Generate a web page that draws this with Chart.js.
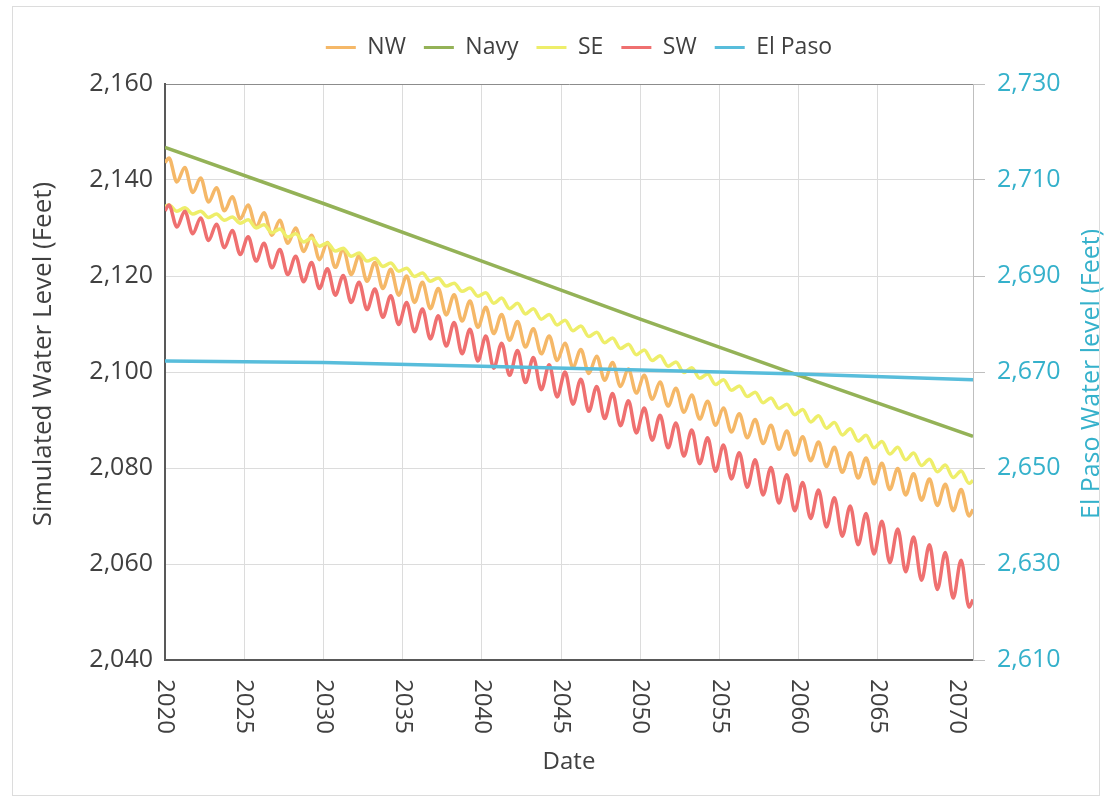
<!DOCTYPE html>
<html>
<head>
<meta charset="utf-8">
<title>Simulated Water Level</title>
<script src="https://cdn.jsdelivr.net/npm/chart.js@4.4.1/dist/chart.umd.min.js"></script>
<style>
  html, body { margin: 0; padding: 0; background: #fff; }
  #wrap { position: relative; width: 1106px; height: 801px; }
  #wrap canvas { position: absolute; left: 0; top: 0; }
  #frame { position: absolute; left: 12px; top: 6px; width: 1086px; height: 788px; border: 1px solid #dcdcdc; pointer-events: none; }
</style>
</head>
<body>
<div id="wrap">
  <canvas id="chart" width="1106" height="801"></canvas>
  <div id="frame"></div>
</div>
<script>
// --- data ---
const YEARS = [];
for (let y = 2020; y <= 2070; y++) YEARS.push(y);
const X_LABELS = [2020, 2025, 2030, 2035, 2040, 2045, 2050, 2055, 2060, 2065, 2070];

// yearly high (about Y+0.25) and low (about Y+0.75), plus values at 2020.0 / 2071.0
const NW_EDGE = [2143.6, 2071.4];
const NW_PEAK = [
  2144.6, 2142.6, 2140.4, 2138.4, 2136.5, 2134.8, 2133.2, 2131.6, 2130.0, 2128.5,
  2127.0, 2125.6, 2124.2, 2122.8, 2121.4, 2120.0, 2118.7, 2117.4, 2116.1, 2114.8,
  2113.5, 2112.0, 2110.5, 2109.0, 2107.5, 2106.0, 2104.7, 2103.3, 2102.0, 2100.6,
  2099.3, 2097.9, 2096.6, 2095.2, 2093.9, 2092.5, 2091.3, 2090.1, 2088.9, 2087.7,
  2086.5, 2085.4, 2084.3, 2083.2, 2082.1, 2081.0, 2079.9, 2078.8, 2077.7, 2076.6,
  2075.5];
const NW_TROUGH = [
  2139.6, 2137.4, 2135.4, 2133.6, 2131.9, 2130.2, 2128.5, 2126.8, 2125.1, 2123.4,
  2121.8, 2120.3, 2118.9, 2117.4, 2116.0, 2114.5, 2113.2, 2111.9, 2110.6, 2109.3,
  2108.0, 2106.6, 2105.2, 2103.8, 2102.4, 2101.0, 2099.7, 2098.3, 2097.0, 2095.6,
  2094.3, 2092.9, 2091.6, 2090.2, 2088.9, 2087.5, 2086.3, 2085.1, 2083.9, 2082.7,
  2081.5, 2080.3, 2079.1, 2077.9, 2076.7, 2075.5, 2074.4, 2073.3, 2072.2, 2071.1,
  2070.0];

const SW_EDGE = [2133.6, 2052.6];
const SW_PEAK = [
  2134.8, 2133.5, 2132.1, 2130.8, 2129.5, 2128.2, 2126.8, 2125.5, 2124.1, 2122.8,
  2121.5, 2120.1, 2118.7, 2117.3, 2115.9, 2114.5, 2113.1, 2111.7, 2110.3, 2108.9,
  2107.5, 2106.0, 2104.5, 2103.0, 2101.5, 2100.0, 2098.5, 2097.0, 2095.5, 2094.0,
  2092.5, 2091.0, 2089.4, 2087.9, 2086.3, 2084.8, 2083.2, 2081.7, 2080.1, 2078.6,
  2077.0, 2075.4, 2073.8, 2072.1, 2070.5, 2068.9, 2067.3, 2065.6, 2064.0, 2062.4,
  2060.8];
const SW_TROUGH = [
  2130.2, 2128.8, 2127.4, 2125.9, 2124.5, 2123.1, 2121.7, 2120.3, 2118.8, 2117.4,
  2116.0, 2114.5, 2113.0, 2111.4, 2109.9, 2108.4, 2106.9, 2105.4, 2103.8, 2102.3,
  2100.8, 2099.3, 2097.8, 2096.3, 2094.8, 2093.3, 2091.8, 2090.3, 2088.8, 2087.3,
  2085.8, 2084.2, 2082.5, 2080.9, 2079.3, 2077.7, 2076.0, 2074.4, 2072.7, 2071.1,
  2069.5, 2067.7, 2065.8, 2064.0, 2062.1, 2060.3, 2058.4, 2056.6, 2054.7, 2052.9,
  2051.0];

const SE_EDGE = [2134.5, 2077.4];
const SE_PEAK = [
  2134.8, 2134.2, 2133.5, 2132.9, 2132.3, 2131.7, 2130.7, 2129.8, 2128.8, 2127.9,
  2126.9, 2125.8, 2124.8, 2123.7, 2122.7, 2121.6, 2120.6, 2119.6, 2118.5, 2117.5,
  2116.5, 2115.4, 2114.3, 2113.2, 2112.0, 2110.8, 2109.6, 2108.3, 2107.1, 2105.8,
  2104.6, 2103.4, 2102.1, 2100.9, 2099.6, 2098.4, 2097.1, 2095.8, 2094.6, 2093.3,
  2092.2, 2090.9, 2089.5, 2088.2, 2086.8, 2085.5, 2084.3, 2083.1, 2081.8, 2080.6,
  2079.4];
const SE_TROUGH = [
  2133.5, 2132.9, 2132.2, 2131.6, 2131.0, 2130.0, 2129.0, 2128.1, 2127.1, 2126.2,
  2125.2, 2124.1, 2123.1, 2122.0, 2121.0, 2119.9, 2118.9, 2117.9, 2116.8, 2115.8,
  2114.3, 2113.2, 2112.1, 2111.0, 2109.8, 2108.6, 2107.4, 2106.1, 2104.9, 2103.6,
  2102.4, 2101.2, 2099.9, 2098.7, 2097.4, 2096.2, 2094.9, 2093.6, 2092.4, 2091.1,
  2089.6, 2088.3, 2086.9, 2085.6, 2084.2, 2082.9, 2081.7, 2080.5, 2079.2, 2078.0,
  2076.8];

// straight-ish series
const LINE_X = [2020, 2030, 2040, 2050, 2060, 2071];
const NAVY = [2146.8, 2135.1, 2123.1, 2111.0, 2099.3, 2086.6];
const EL_PASO = [2672.3, 2672.0, 2671.2, 2670.4, 2669.6, 2668.4];

const TEXT = '#404040';
const TEAL = '#35b1cb';
const FONT = '"Open Sans", sans-serif';
const COLORS = { nw: '#f5b868', navy: '#94b257', se: '#eeee6a', sw: '#ef7070', ep: '#58bddb' };

// --- helpers ---
function wave(edge, peaks, troughs) {
    const pts = [{ x: 2020, y: edge[0] }];
    YEARS.forEach((yr, i) => {
        pts.push({ x: yr + 0.25, y: peaks[i] });
        pts.push({ x: yr + 0.75, y: troughs[i] });
    });
    pts.push({ x: 2071, y: edge[1] });
    return pts;
}

function pairs(xs, ys) {
    return xs.map((x, i) => ({ x: x, y: ys[i] }));
}

// one dataset, with colour also set on the (hidden) points so the legend picks it up
function series(label, data, color, extra) {
    return Object.assign({
        label: label,
        data: data,
        borderColor: color,
        backgroundColor: color,
        borderWidth: 3.5,
        pointRadius: 0,
        pointBorderColor: color,
        pointBackgroundColor: color,
        pointBorderWidth: 3,
        fill: false
    }, extra);
}

// legend height fix + rotated x labels + y titles
const extras = {
    id: 'extras',
    beforeLayout(chart) {
        const lg = chart.legend;
        if (lg && !lg._patched) {
            const fit = lg.fit;
            lg.fit = function () { fit.call(this); this.height = 66; };
            lg._patched = true;
        }
    },
    afterLayout(chart) {
        // nudge the legend right, as in the original
        chart.legend.left += 10;
        chart.legend.right += 10;
    },
    afterDraw(chart) {
        const ctx = chart.ctx;
        const xs = chart.scales.x;
        const area = chart.chartArea;
        ctx.save();
        ctx.font = '24px ' + FONT;
        ctx.fillStyle = TEXT;
        ctx.textAlign = 'left';
        ctx.textBaseline = 'middle';
        X_LABELS.forEach(yr => {
            ctx.save();
            ctx.translate(xs.getPixelForValue(yr), area.bottom + 19);
            ctx.rotate(Math.PI / 2);
            ctx.fillText(String(yr), 0, 0);
            ctx.restore();
        });

        ctx.textAlign = 'center';
        ctx.font = '26px ' + FONT;
        ctx.save();
        ctx.translate(44, 354);
        ctx.rotate(-Math.PI / 2);
        ctx.fillText('Simulated Water Level (Feet)', 0, 0);
        ctx.restore();

        ctx.font = '25px ' + FONT;
        ctx.fillStyle = TEAL;
        ctx.save();
        ctx.translate(1092, 374);
        ctx.rotate(-Math.PI / 2);
        ctx.fillText('El Paso Water level (Feet)', 0, 0);
        ctx.restore();
        ctx.restore();
    }
};

Chart.defaults.font.family = FONT;
Chart.defaults.color = TEXT;

new Chart(document.getElementById('chart'), {
    type: 'line',
    data: {
        datasets: [
            series('NW', wave(NW_EDGE, NW_PEAK, NW_TROUGH), COLORS.nw, { cubicInterpolationMode: 'monotone', order: 5 }),
            series('Navy', pairs(LINE_X, NAVY), COLORS.navy, { tension: 0, order: 4 }),
            series('SE', wave(SE_EDGE, SE_PEAK, SE_TROUGH), COLORS.se, { cubicInterpolationMode: 'monotone', order: 3 }),
            series('SW', wave(SW_EDGE, SW_PEAK, SW_TROUGH), COLORS.sw, { cubicInterpolationMode: 'monotone', order: 2 }),
            series('El Paso', pairs(LINE_X, EL_PASO), COLORS.ep, { tension: 0, order: 1, yAxisID: 'y2' })
        ]
    },
    options: {
        responsive: false,
        animation: false,
        devicePixelRatio: 1,
        layout: { padding: { top: 18, left: 0, right: 0, bottom: 0 } },
        plugins: {
            tooltip: { enabled: false },
            legend: {
                position: 'top',
                fullSize: false,
                labels: {
                    usePointStyle: true,
                    pointStyle: 'line',
                    pointStyleWidth: 30,
                    padding: 18,
                    color: TEXT,
                    font: { size: 23 },
                    sort: (a, b) => a.datasetIndex - b.datasetIndex
                }
            }
        },
        scales: {
            x: {
                type: 'linear',
                min: 2020,
                max: 2071,
                ticks: { stepSize: 5, display: false },
                grid: { color: '#dcdcdc', lineWidth: 1, drawTicks: false },
                border: { color: '#595959', width: 2 },
                title: { display: true, text: 'Date', color: TEXT, font: { size: 24 }, padding: { top: 0, bottom: 24 } },
                afterFit(s) { s.height = 141; }
            },
            y: {
                position: 'left',
                min: 2040,
                max: 2160,
                ticks: { stepSize: 20, padding: 12, color: TEXT, font: { size: 25 }, callback: v => v.toLocaleString('en-US') },
                grid: { color: c => (c.tick && c.tick.value === 2160 ? '#8c8c8c' : '#dcdcdc'), drawTicks: false },
                border: { color: '#595959', width: 2 },
                afterFit(s) { s.width = 165; }
            },
            y2: {
                position: 'right',
                min: 2610,
                max: 2730,
                ticks: { stepSize: 20, padding: 12, color: TEAL, font: { size: 25 }, callback: v => v.toLocaleString('en-US') },
                grid: { drawOnChartArea: false, drawTicks: true, tickLength: 12, color: '#bfbfbf' },
                border: { color: '#bfbfbf', width: 1 },
                afterFit(s) { s.width = 133; }
            }
        }
    },
    plugins: [extras]
});
</script>
</body>
</html>
